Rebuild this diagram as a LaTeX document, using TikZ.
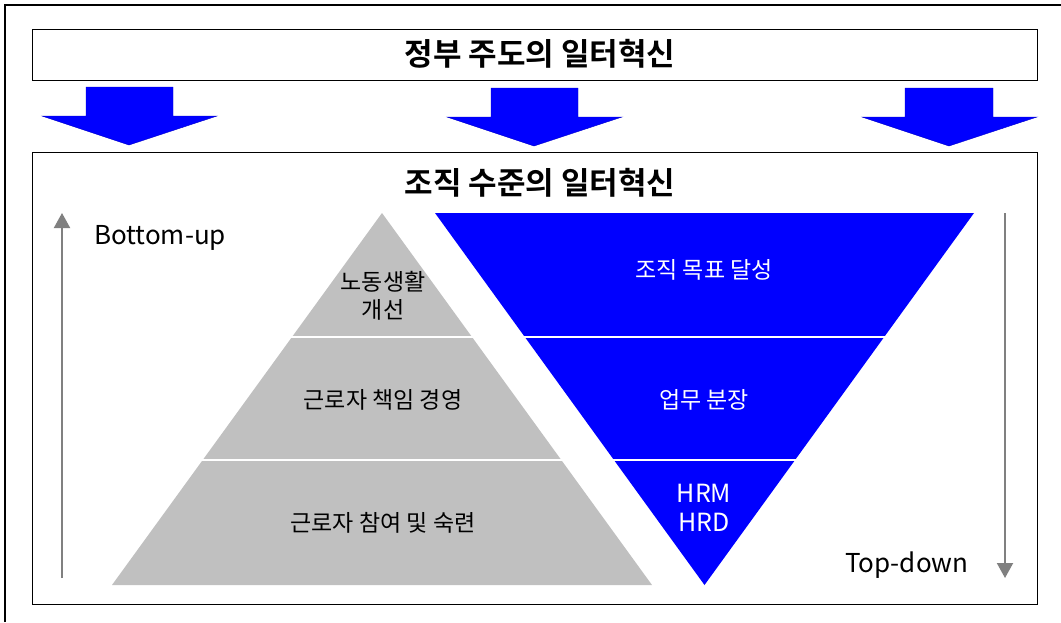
\documentclass[tikz,border=0pt]{standalone}
\usepackage{fontspec}
\setmainfont{Noto Sans CJK KR}[BoldFont={Noto Sans CJK KR Bold}]
\usetikzlibrary{arrows.meta}
\definecolor{pblue}{HTML}{0000FF}
\definecolor{pgray}{HTML}{C0C0C0}
\definecolor{agray}{HTML}{808080}
\tikzset{
  framebox/.style={draw=black, line width=1.3pt, fill=white},
  blockarrow/.style={fill=pblue, draw=pblue!80!black, line width=0.4pt},
  title/.style={font=\bfseries\fontsize{31}{34}\selectfont, inner sep=0pt},
  ptext/.style={font=\fontsize{23}{28}\selectfont, align=center, inner sep=0pt, text=black},
  btext/.style={font=\fontsize{23}{29}\selectfont, align=center, inner sep=0pt, text=white},
  latext/.style={font=\fontsize{25}{29}\selectfont, align=center, inner sep=0pt, text=white},
  dirtext/.style={font=\fontsize{26}{30}\selectfont, inner sep=0pt, anchor=west},
  dirarrow/.style={draw=agray, line width=2pt, -{Triangle[length=15pt,width=16pt]}},
  sep/.style={draw=white, line width=2pt}
}
\begin{document}
\begin{tikzpicture}[x=1pt,y=-1pt]
\useasboundingbox (0,0) rectangle (1061,622);
\fill[white] (0,0) rectangle (1061,622);
% outer frame (only top and left visible)
\draw[black, line width=1.2pt] (5,622) -- (5,5) -- (1061,5);
% top box
\node[framebox, minimum width=1005pt, minimum height=51pt, anchor=north west] (gov) at (32,29) {};
\node[title] (govt) at (540,54) {정부 주도의 일터혁신};
% block arrows
\path[blockarrow] (86,87) -- (173,87) -- (173,116) -- (217,116) -- (129,145) -- (42,116) -- (86,116) -- cycle;
\path[blockarrow] (491,88) -- (578,88) -- (578,117) -- (622,117) -- (534,146) -- (447,117) -- (491,117) -- cycle;
\path[blockarrow] (905,88) -- (993,88) -- (993,117) -- (1037,117) -- (949,146) -- (862,117) -- (905,117) -- cycle;
% big box
\node[framebox, minimum width=1005pt, minimum height=452pt, anchor=north west] (org) at (32,152) {};
\node[title] (orgt) at (540,183) {조직 수준의 일터혁신};
% gray pyramid
\fill[pgray] (382,213) -- (652,585) -- (112,585) -- cycle;
\draw[sep] (100,337) -- (660,337);
\draw[sep] (100,460) -- (660,460);
% blue inverted pyramid
\fill[pblue] (435,213) -- (974,213) -- (704.5,585) -- cycle;
\draw[sep] (420,337) -- (990,337);
\draw[sep] (420,460) -- (990,460);
% pyramid texts
\node[ptext] (p1) at (383,296) {노동생활\\개선};
\node[ptext] (p2) at (383,400) {근로자 책임 경영};
\node[ptext] (p3) at (383,523) {근로자 참여 및 숙련};
\node[btext] (b1) at (704,270) {조직 목표 달성};
\node[btext] (b2) at (704,400) {업무 분장};
\node[latext] (b3) at (704,508) {HRM\\HRD};
% direction arrows
\coordinate (bu0) at (62,578);
\coordinate (bu1) at (62,213);
\coordinate (td0) at (1005,213);
\coordinate (td1) at (1005,578);
\draw[dirarrow] (bu0) -- (bu1);
\draw[dirarrow] (td0) -- (td1);
\node[dirtext] (bu) at (94,238) {Bottom-up};
\node[dirtext] (td) at (845,565) {Top-down};
\end{tikzpicture}
\end{document}
